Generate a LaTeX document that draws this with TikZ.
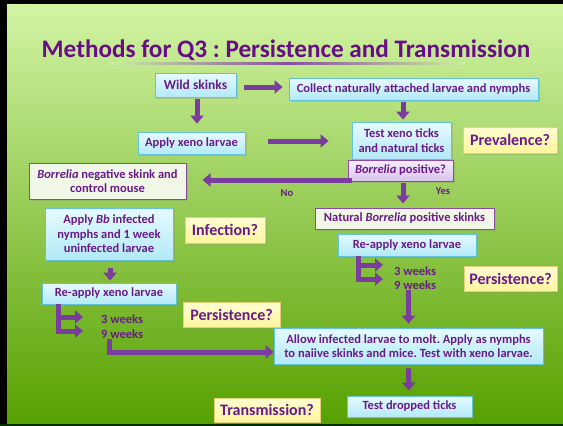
\documentclass[tikz,border=0pt]{standalone}
\usepackage{fontspec}
\setmainfont{Carlito}
\usetikzlibrary{arrows.meta,shadows,calc}
\definecolor{ptext}{HTML}{6A1A8A}
\definecolor{ptitle}{HTML}{680C88}
\definecolor{arrowc}{HTML}{7A3C9E}
\definecolor{bgtop}{HTML}{D4F5A6}
\definecolor{bgmid}{HTML}{94D25C}
\definecolor{bgbot}{HTML}{56A000}
\definecolor{bluetop}{HTML}{E6FBFE}
\definecolor{bluebot}{HTML}{B2E9F7}
\definecolor{blueline}{HTML}{62C2DA}
\definecolor{yeltop}{HTML}{FFFDD2}
\definecolor{yelbot}{HTML}{FFF59C}
\definecolor{yelline}{HTML}{E6D07C}
\definecolor{paleg}{HTML}{F0F7E6}
\definecolor{pline}{HTML}{8A4CA4}
\definecolor{lavtop}{HTML}{F7EEFC}
\definecolor{lavbot}{HTML}{D9C3EC}
\begin{document}
\frenchspacing
\begin{tikzpicture}[x=1pt,y=-1pt,
  font=\bfseries\fontsize{12.5}{14.5}\selectfont, text=ptext,
  boxbase/.style={inner sep=0pt, align=center, drop shadow={opacity=0.25,shadow xshift=1.5pt,shadow yshift=-1.5pt}},
  bluebox/.style={boxbase, draw=blueline, line width=0.8pt, top color=bluetop, bottom color=bluebot},
  yelbox/.style={boxbase, draw=yelline, line width=0.8pt, top color=yeltop, bottom color=yelbot, font=\bfseries\fontsize{16}{18}\selectfont},
  palebox/.style={boxbase, draw=pline, line width=1pt, fill=paleg},
  lavbox/.style={boxbase, draw=pline, line width=1pt, top color=lavtop, bottom color=lavbot},
  parrow/.style={draw=arrowc, line width=5pt, line join=miter, -{Triangle[width=13pt,length=8pt]}},
  plain/.style={inner sep=0pt}
]
\useasboundingbox (0,0) rectangle (563,426);
% background
\shade[top color=bgtop, middle color=bgmid, bottom color=bgbot] (0,0) rectangle (563,426);
\fill[black] (0,0) rectangle (7,426);
\fill[black] (0,0) rectangle (563,4);
\fill[black!70!green!60!black] (0,424) rectangle (563,426);
% title
\node[plain, anchor=base, text=ptitle, font=\bfseries\fontsize{25.2}{30}\selectfont] (title) at (286,57.5) {Methods for Q3 : Persistence and Transmission};
\shade[left color=bgtop!85!bgmid, right color=bgtop!85!bgmid, middle color=pline] (110,62.5) rectangle (465,64.5);
% boxes
\node[bluebox, minimum width=81pt, minimum height=24pt, font=\bfseries\fontsize{13.5}{16}\selectfont] (wild) at (195.5,85) {Wild skinks};
\node[bluebox, minimum width=249pt, minimum height=22pt] (collect) at (413.5,89) {Collect naturally attached larvae and nymphs};
\node[bluebox, minimum width=107pt, minimum height=22pt] (apply) at (191.5,143) {Apply xeno larvae};
\node[bluebox, minimum width=99pt, minimum height=37pt] (test) at (401.5,140.5) {Test xeno ticks\\and natural ticks};
\node[yelbox, minimum width=94pt, minimum height=26pt] (prev) at (510,140) {Prevalence?};
\node[palebox, minimum width=157pt, minimum height=36pt] (neg) at (107.5,181) {\textit{Borrelia} negative skink and\\control mouse};
\node[lavbox, minimum width=105pt, minimum height=21pt] (pos) at (400.5,170.5) {\textit{Borrelia} positive?};
\node[palebox, minimum width=179pt, minimum height=21pt] (nat) at (404.5,218.5) {Natural \textit{Borrelia} positive skinks};
\node[bluebox, minimum width=128pt, minimum height=52pt] (bb) at (109,234) {Apply \textit{Bb} infected\\nymphs and 1 week\\uninfected larvae};
\node[yelbox, minimum width=80pt, minimum height=26pt] (inf) at (225,230) {Infection?};
\node[bluebox, minimum width=138pt, minimum height=22pt] (rr) at (407,245) {Re-apply xeno larvae};
\node[yelbox, minimum width=93pt, minimum height=25pt] (persr) at (510.5,278.5) {Persistence?};
\node[bluebox, minimum width=134pt, minimum height=21pt] (rl) at (109,293.5) {Re-apply xeno larvae};
\node[yelbox, minimum width=97pt, minimum height=25pt] (persl) at (231.5,314.5) {Persistence?};
\node[bluebox, minimum width=269pt, minimum height=36pt] (allow) at (408.5,346) {Allow infected larvae to molt. Apply as nymphs\\to naiive skinks and mice. Test with xeno larvae.};
\node[bluebox, minimum width=125pt, minimum height=21pt] (drop) at (409.5,406.5) {Test dropped ticks};
\node[yelbox, minimum width=106pt, minimum height=24pt] (trans) at (267,410) {Transmission?};
% week labels
\node[plain, anchor=west] (w3r) at (394,271) {3 weeks};
\node[plain, anchor=west] (w9r) at (394,285) {9 weeks};
\node[plain, anchor=west] (w3l) at (101,319) {3 weeks};
\node[plain, anchor=west] (w9l) at (101,334) {9 weeks};
% yes / no
\node[plain, font=\bfseries\fontsize{10.5}{12}\selectfont] (no) at (287,193) {No};
\node[plain, font=\bfseries\fontsize{10.5}{12}\selectfont] (yes) at (443,191) {Yes};
% arrows
\draw[parrow] ($(wild.east)+(8,2)$) -- ($(collect.west)+(-6,-2)$);
\draw[parrow] ($(wild.south)+(1.5,2)$) -- ($(apply.north)+(5.5,-8)$);
\draw[parrow] ($(collect.south)+(-10.5,2)$) -- ($(test.north)+(1.5,-2)$);
\draw[parrow] ($(apply.east)+(23,-2)$) -- ($(test.west)+(-23,0.5)$);
\draw[parrow] ($(pos.west)+(4,9.5)$) -- ($(neg.east)+(16,-1)$);
\draw[parrow] ($(pos.south)+(2.5,1)$) -- ($(nat.north)+(-1.5,-4)$);
\draw[parrow] ($(bb.south)+(1,8)$) -- ($(rl.north)+(1,-2)$);
\draw[parrow] ($(rr.south)+(-49,0)$) |- ($(w3r.west)+(-11,-6)$);
\draw[parrow] ($(rr.south)+(-49,0)$) |- ($(w9r.west)+(-11,-6)$);
\draw[parrow] ($(rl.south)+(-51,0)$) |- ($(w3l.west)+(-18,-2)$);
\draw[parrow] ($(rl.south)+(-51,0)$) |- ($(w9l.west)+(-18,-3)$);
\draw[parrow] (w9l.south -| rl.south) |- ($(allow.west)+(0,6)$);
\draw[parrow] (w9r.south -| allow.north) -- ($(allow.north)+(0,-4)$);
\draw[parrow] ($(allow.south)+(0,4)$) -- ($(drop.north)+(-0.5,-5)$);
\end{tikzpicture}
\end{document}
